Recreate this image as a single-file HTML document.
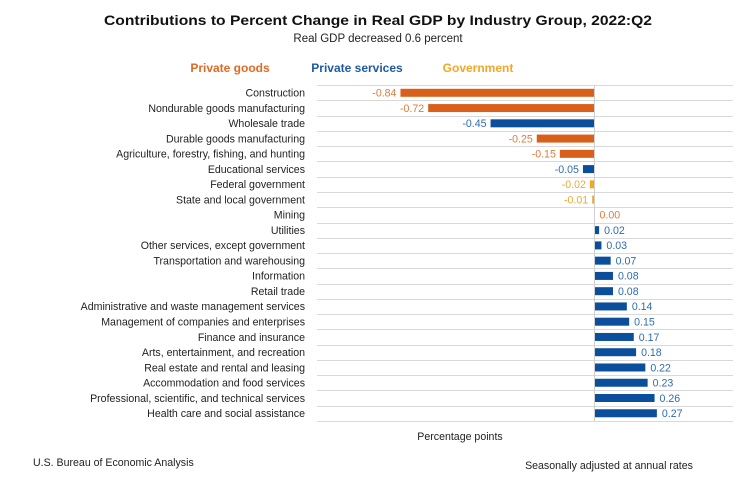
<!DOCTYPE html>
<html><head><meta charset="utf-8"><style>
html,body{margin:0;padding:0;background:#fff;}
svg{display:block;font-family:"Liberation Sans",sans-serif;}
</style></head><body>
<svg width="755" height="495" viewBox="0 0 755 495" xmlns="http://www.w3.org/2000/svg">
<text x="378" y="25" text-anchor="middle" font-size="14" font-weight="bold" fill="#111" textLength="548" lengthAdjust="spacingAndGlyphs">Contributions to Percent Change in Real GDP by Industry Group, 2022:Q2</text>
<text x="378" y="42" text-anchor="middle" font-size="11.5" fill="#222">Real GDP decreased 0.6 percent</text>
<text x="230" y="72" text-anchor="middle" font-size="12" font-weight="bold" fill="#e06a24">Private goods</text>
<text x="357" y="72" text-anchor="middle" font-size="12" font-weight="bold" fill="#1f5aa6">Private services</text>
<text x="478" y="72" text-anchor="middle" font-size="12" font-weight="bold" fill="#f5a623">Government</text>
<g id="grid" stroke="#d9d9d9" stroke-width="1"></g>
<g id="rows" font-size="10.6"></g>
<line x1="594.5" y1="85" x2="594.5" y2="421" stroke="#d0d0d0"/>
<text x="460" y="440" text-anchor="middle" font-size="10.6" fill="#222">Percentage points</text>
<text x="33" y="466" font-size="10.6" fill="#222">U.S. Bureau of Economic Analysis</text>
<text x="609" y="469" text-anchor="middle" font-size="10.6" fill="#222">Seasonally adjusted at annual rates</text>
<script>
var d=[["Construction",-0.84,"g"],["Nondurable goods manufacturing",-0.72,"g"],["Wholesale trade",-0.45,"s"],["Durable goods manufacturing",-0.25,"g"],["Agriculture, forestry, fishing, and hunting",-0.15,"g"],["Educational services",-0.05,"s"],["Federal government",-0.02,"v"],["State and local government",-0.01,"v"],["Mining",0.00,"g"],["Utilities",0.02,"s"],["Other services, except government",0.03,"s"],["Transportation and warehousing",0.07,"s"],["Information",0.08,"s"],["Retail trade",0.08,"s"],["Administrative and waste management services",0.14,"s"],["Management of companies and enterprises",0.15,"s"],["Finance and insurance",0.17,"s"],["Arts, entertainment, and recreation",0.18,"s"],["Real estate and rental and leasing",0.22,"s"],["Accommodation and food services",0.23,"s"],["Professional, scientific, and technical services",0.26,"s"],["Health care and social assistance",0.27,"s"]];
var bc={g:"#d9601a",s:"#0b4f9c",v:"#f5a623"},lc={g:"#e07a3a",s:"#2e6bb0",v:"#f0a830"};
var ns="http://www.w3.org/2000/svg",R=document.getElementById("rows"),G=document.getElementById("grid");
function el(p,t,a,tx){var e=document.createElementNS(ns,t);for(var k in a)e.setAttribute(k,a[k]);if(tx!=null)e.textContent=tx;p.appendChild(e);return e;}
var z=594.5,sc=231,y0=92.8,sp=15.26;
for(var i=0;i<=22;i++){var yy=Math.round(y0-sp/2+i*sp)+0.5;el(G,"line",{x1:317,x2:733,y1:yy,y2:yy});}
d.forEach(function(r,i){var y=y0+i*sp;
el(R,"text",{x:305,y:y+3.8,"text-anchor":"end",fill:"#222"},r[0]);
var w=Math.abs(r[1])*sc;var x=r[1]<0?z-w:z;
if(w>0)el(R,"rect",{x:x,y:y-4,width:w,height:8,fill:bc[r[2]]});
var s=r[1].toFixed(2);
if(r[1]<0)el(R,"text",{x:x-4,y:y+3.8,"text-anchor":"end",fill:lc[r[2]]},s);
else el(R,"text",{x:z+w+5,y:y+3.8,fill:lc[r[2]]},s);
});
</script>
</svg>
</body></html>
